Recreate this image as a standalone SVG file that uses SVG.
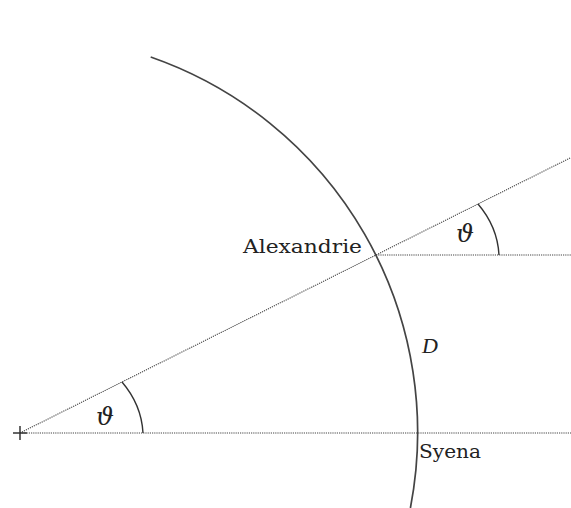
<svg xmlns="http://www.w3.org/2000/svg" width="571" height="508" viewBox="0 0 571 508">
<style>
.dot{stroke:#444;stroke-width:1.1;stroke-dasharray:1.2 1;fill:none}
.arc{stroke:#444;stroke-width:1.7;fill:none}
.ang{stroke:#333;stroke-width:1.4;fill:none}
.lbl{font-family:"DejaVu Serif","Liberation Serif",serif;font-size:18px;fill:#222}
.sym{font-family:"DejaVu Serif","Liberation Serif",serif;font-style:italic;font-size:24px;fill:#222}
.d{font-family:"Liberation Serif",serif;font-style:italic;font-size:22px;fill:#222}
</style>
<rect width="571" height="508" fill="#fff"/>
<g id="connectors">
<line class="dot" x1="20" y1="433" x2="571" y2="433"/>
<line class="dot" x1="20" y1="433" x2="571" y2="157.5"/>
<line class="dot" x1="376" y1="255" x2="571" y2="255"/>
</g>
<g id="earth">
<path class="arc" d="M150.7,57 A397.5,397.5 0 0 1 410.4,508"/>
</g>
<g id="center">
<line stroke="#333" stroke-width="1.5" x1="13" y1="433" x2="27" y2="433"/>
<line stroke="#333" stroke-width="1.5" x1="20" y1="426" x2="20" y2="440"/>
</g>
<g id="angle-center">
<path class="ang" d="M122,382 C134,396 142,414 143,433"/>
<text class="sym" x="96" y="425" textLength="18" lengthAdjust="spacingAndGlyphs">ϑ</text>
</g>
<g id="angle-alex">
<path class="ang" d="M478,204 C490,218 498,236 499,255"/>
<text class="sym" x="456" y="242" textLength="18" lengthAdjust="spacingAndGlyphs">ϑ</text>
</g>
<g id="alexandrie">
<text class="lbl" x="243" y="253" textLength="119" lengthAdjust="spacingAndGlyphs">Alexandrie</text>
</g>
<g id="syena">
<text class="lbl" x="419" y="458" textLength="62" lengthAdjust="spacingAndGlyphs">Syena</text>
</g>
<g id="distance">
<text class="d" x="422" y="353">D</text>
</g>
</svg>
